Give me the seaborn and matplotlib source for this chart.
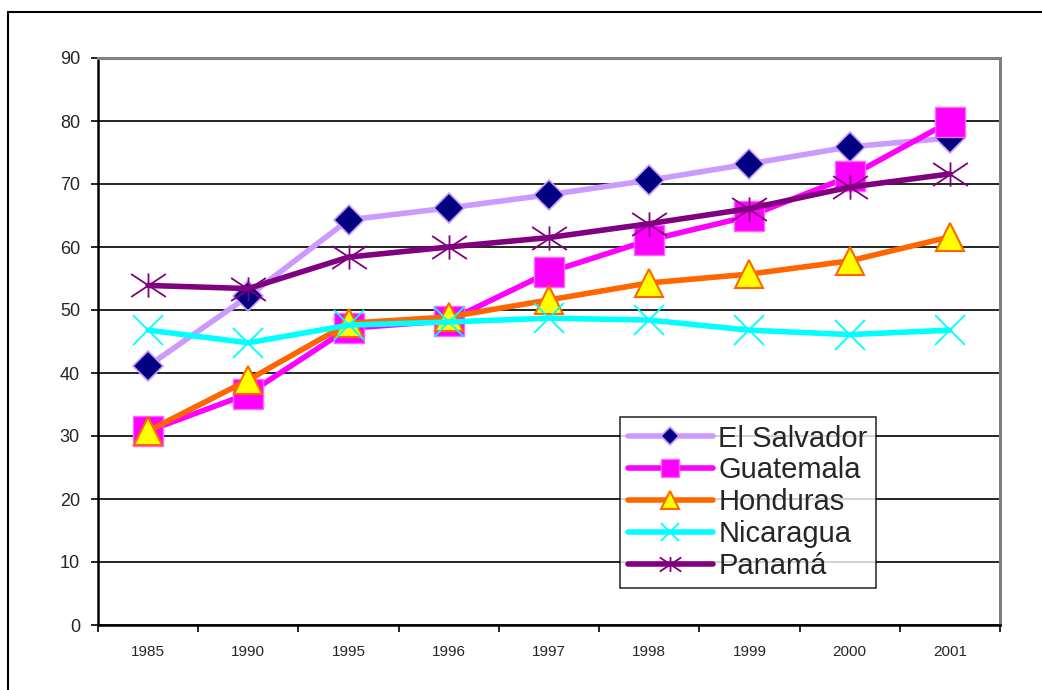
import pandas as pd
import matplotlib
matplotlib.use('Agg')
import matplotlib.pyplot as plt
import seaborn as sns
from matplotlib.lines import Line2D
from matplotlib.path import Path

# Dados
anos = ['1985', '1990', '1995', '1996', '1997', '1998', '1999', '2000', '2001']
el_salvador = [41.1, 52.2, 64.3, 66.2, 68.3, 70.6, 73.2, 75.9, 77.3]
guatemala = [30.8, 36.7, 47.1, 48.3, 56.0, 61.1, 64.9, 71.2, 79.9]
honduras = [30.8, 38.9, 47.9, 48.9, 51.6, 54.3, 55.7, 57.8, 61.6]
nicaragua = [46.8, 44.8, 47.6, 48.1, 48.7, 48.4, 46.8, 46.1, 46.8]
panama = [53.9, 53.4, 58.4, 60.0, 61.5, 63.7, 66.1, 69.5, 71.6]

sns.set_style('white')
plt.rcParams['font.family'] = ['Liberation Sans', 'DejaVu Sans']

# asterisco estilo Excel (X largo + traço vertical)
asterisco = Path([(-1, -0.66), (1, 0.66), (-1, 0.66), (1, -0.66), (0, -0.7), (0, 0.7)],
                 [Path.MOVETO, Path.LINETO, Path.MOVETO, Path.LINETO, Path.MOVETO, Path.LINETO])

fig = plt.figure(figsize=(10.42, 6.90), dpi=100)
ax = fig.add_axes([98 / 1042, 1 - 625 / 690, 902 / 1042, 567 / 690])

# moldura externa
fig.add_artist(Line2D([8 / 1042, 8 / 1042], [0, 1 - 12 / 690], transform=fig.transFigure,
                      color='black', lw=1.5))
fig.add_artist(Line2D([8 / 1042, 1], [1 - 12 / 690, 1 - 12 / 690], transform=fig.transFigure,
                      color='black', lw=1.5))

series = [
    ('El Salvador', el_salvador, dict(color='#CC99FF', marker='D', markersize=15,
                                      markerfacecolor='#000080', markeredgecolor='#CC99FF',
                                      markeredgewidth=1.2)),
    ('Guatemala', guatemala, dict(color='#FF00FF', marker='s', markersize=22,
                                  markerfacecolor='#FF00FF', markeredgecolor='#FF66FF',
                                  markeredgewidth=1.0)),
    ('Honduras', honduras, dict(color='#FF6600', marker='^', markersize=20,
                                markerfacecolor='#FFFF00', markeredgecolor='#FF6600',
                                markeredgewidth=1.5)),
    ('Nicaragua', nicaragua, dict(color='#00FFFF', marker='x', markersize=22,
                                  markeredgecolor='#00FFFF', markeredgewidth=1.3)),
    ('Panamá', panama, dict(color='#800080', marker=asterisco, markersize=25,
                            markeredgecolor='#800080', markeredgewidth=1.3)),
]

for nome, valores, estilo in series:
    df = pd.DataFrame({'ano': anos, 'valor': valores})
    sns.lineplot(data=df, x='ano', y='valor', ax=ax, label=nome, lw=4,
                 sort=False, **estilo)

ax.set_xlim(-0.5, len(anos) - 0.5)
ax.set_ylim(0, 90)
ax.set_yticks(range(0, 91, 10))
ax.set_xticks(range(len(anos)))
ax.set_xticklabels(anos)
ax.set_xticks([i - 0.5 for i in range(len(anos) + 1)], minor=True)
ax.set_xlabel('')
ax.set_ylabel('')

ax.yaxis.grid(True, color='black', lw=1.2)
ax.set_axisbelow(True)
ax.tick_params(axis='y', which='major', left=True, length=5, width=1.2, direction='out',
               labelsize=13, pad=8, color='black')
ax.tick_params(axis='x', which='major', bottom=False, labelsize=11, pad=11)
ax.tick_params(axis='x', which='minor', bottom=True, length=5, width=1.2, direction='out',
               color='black')

for lado in ['left', 'bottom']:
    ax.spines[lado].set_color('black')
    ax.spines[lado].set_linewidth(1.8)
for lado in ['top', 'right']:
    ax.spines[lado].set_color('#808080')
    ax.spines[lado].set_linewidth(2.2)

# legenda: caixa aprox. de x=616..876, y=416..588 px
leg = ax.legend(loc='lower right',
                bbox_to_anchor=((876 - 98) / 902, (625 - 588) / 567),
                frameon=True, fancybox=False, edgecolor='black', fontsize=21,
                handlelength=2.9, handletextpad=0.2, labelspacing=0.13,
                borderpad=0.28, borderaxespad=0, markerscale=0.62)
leg.get_frame().set_linewidth(1.2)

fig.savefig('out.png', dpi=100, facecolor='white')
